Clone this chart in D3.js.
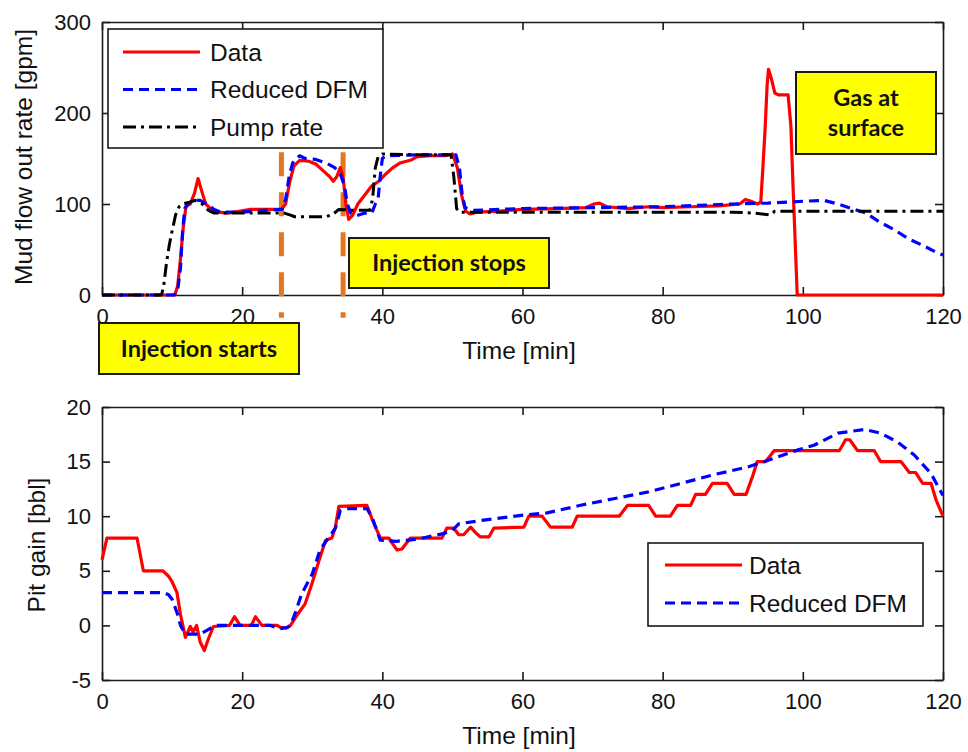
<!DOCTYPE html>
<html>
<head>
<meta charset="utf-8">
<script src="https://cdn.jsdelivr.net/npm/d3@7"></script>
<style>
  body { margin: 0; background: #fff; }
  svg { display: block; background: #fff; }
  text { font-family: "Liberation Sans", Arial, sans-serif; fill: #111; }
  .note text { font-family: Lato, "Open Sans", sans-serif; font-weight: 700; fill: #111; }
</style>
</head>
<body>
<svg id="chart" width="968" height="752"></svg>
<script>
// ---- tick values ----
const timeTicks = [0, 20, 40, 60, 80, 100, 120];
const flowTicks = [0, 100, 200, 300];
const pitTicks = [-5, 0, 5, 10, 15, 20];

// ---- mud flow out rate [gpm]: [time (min), value] ----
const flowData = [
  [0,0],[10.4,0],[10.8,10],[11.2,40],[11.6,75],[12,98],[12.6,100],[13.2,112],[13.7,128],[14.2,115],
  [14.8,100],[15.5,95],[16.5,91],[18,90],[19.5,92],[21,94],[23,94],[25.6,94],[26.2,100],[26.8,125],
  [27.4,142],[28.2,148],[29.5,147],[30.5,144],[31.5,137],[32.5,130],[33,125],[33.5,130],[34,140],
  [34.4,130],[34.8,100],[35.2,83],[35.8,88],[36.5,100],[37.5,110],[38.5,120],[39.5,125],[40.5,133],
  [41.5,140],[42.5,145],[44,148],[45,152],[47,153],[49,153],[50,155],[50.7,140],[51.3,110],[51.9,92],
  [52.5,89],[53.5,91],[56,92],[60,94],[65,95],[69,96],[70.2,100],[71,101],[72,97],[75,95],[78,97],
  [80,96],[84,97],[88,98],[91,100],[91.8,105],[92.6,103],[93.5,100],[94,102],[94.3,140],[94.6,180],
  [94.9,230],[95.1,248],[95.5,238],[96,222],[96.5,220],[97.9,220],[98.3,185],[98.6,120],[98.9,60],
  [99.2,0],[120,0]
];
const flowModel = [
  [0,0],[10.3,0],[10.8,5],[11.2,30],[11.5,70],[11.8,95],[12.3,100],[13,104],[14,104],[15,100],
  [16,94],[17,91],[20,91],[23,93],[25.7,94],[26.2,105],[26.7,130],[27.2,145],[27.7,150],[28.2,153],
  [29,150],[30.5,149],[32,145],[33.2,140],[34,133],[34.6,120],[35,100],[35.5,90],[36.3,87],[37.5,90],
  [38.5,90],[39,100],[39.4,106],[39.7,130],[40,150],[40.5,153],[45,154],[50.5,154],[51,140],[51.4,110],
  [51.8,96],[53,93],[60,95],[70,96],[80,97],[90,100],[95,101],[100,103],[103,104],[105,100],[107,95],
  [109,90],[111,80],[113,72],[115,62],[117,55],[119,47],[120,44]
];
const pumpRate = [
  [0,0],[8.5,0],[8.8,10],[9.2,35],[9.6,55],[10,70],[10.5,88],[11,97],[11.5,100],[12.5,102],[13.3,104],
  [14.3,100],[15.2,93],[16,90],[20,90],[24,90],[26,90],[26.8,88],[27.5,86],[30,86],[32,86],[33,89],
  [33.8,94],[36,93],[38.2,93],[38.6,105],[39,140],[39.4,152],[40,155],[45,154],[49.8,154],[50.2,130],
  [50.6,95],[51,91],[60,91],[70,91],[80,91],[90,91],[93,90],[95.3,88],[96,92],[100,92],[110,92],[120,92]
];

// ---- pit gain [bbl]: [time (min), value] ----
const pitData = [
  [0,6],[0.7,8],[5,8],[5.9,5],[8.7,5],[9.5,4.5],[10,4],[10.7,3],[11.2,1],[11.9,-1.1],[12.6,-0.1],
  [13,-0.6],[13.5,0],[14,-1.5],[14.6,-2.3],[15.2,-1.2],[15.9,-0.1],[18.2,0],[18.9,0.8],[19.7,0],
  [21.3,0],[21.9,0.8],[22.8,0],[25,0],[25.5,-0.2],[26.4,-0.2],[26.9,0],[27.9,1],[29,2],[30,3.9],
  [30.9,5.8],[31.9,7.8],[32.8,8],[33.3,9],[33.8,10.9],[37.8,11],[38.5,9.8],[39.7,8],[40.9,8],
  [42.1,6.9],[42.8,7],[44,8],[48.5,8],[49.2,8.9],[50.2,8.9],[50.9,8.3],[51.6,8.3],[52.6,9],[53.3,8.5],
  [54,8.1],[55.2,8.1],[55.9,8.9],[60.2,9],[60.9,10],[62.8,10],[64,9],[67.1,9],[67.8,10],[73.8,10],
  [75,11],[78,11],[79,10],[81.1,10],[82.1,11],[84,11],[84.7,12],[86.1,12],[87.1,13],[89.2,13],
  [90.2,12],[91.9,12],[92.8,13.6],[93.5,15],[94.7,15],[95.9,16],[105.2,16],[106.1,17],[106.7,17],
  [107.8,16],[110.2,16],[111.1,15],[114,15],[115.2,14],[116.1,14],[117.1,13],[118.3,13],[119,11.5],
  [120,10]
];
const pitModel = [
  [0,3],[8.8,3],[9.5,2.8],[10,2.4],[10.8,1],[11.2,0],[11.9,-0.8],[14,-0.8],[15.4,-0.3],[16.2,0],
  [24,0],[25.4,-0.3],[26.4,-0.2],[26.9,0],[27.6,1.2],[28.5,2.9],[30,4.7],[31.1,6.9],[32.3,8],
  [33.3,8.9],[34,10.5],[35,10.7],[37.8,10.7],[38.6,9.8],[39.7,7.8],[42,7.7],[45,7.9],[48.7,8.4],
  [50,8.7],[50.9,9.3],[54,9.6],[60.2,10.1],[63.5,10.3],[68.3,11],[73,11.6],[77.8,12.2],[82.6,13],
  [87.3,13.8],[92.1,14.5],[95.9,15.3],[99.2,16.05],[101.6,16.5],[105,17.6],[108.8,17.95],
  [111.1,17.6],[113.5,16.8],[115.9,15.6],[118.3,13.9],[120,11.9]
];

// injection start / stop times (min)
const injectionMarks = [25.6, 34.4];

// ---- layout ----
const svg = d3.select("#chart");
const plotLeft = 102, plotRight = 943;
const topPanel = { top: 22, bottom: 295 };
const lowPanel = { top: 407, bottom: 680 };

const x = d3.scaleLinear().domain([0, 120]).range([plotLeft, plotRight]);
const yFlow = d3.scaleLinear().domain([0, 300]).range([topPanel.bottom, topPanel.top]);
const yPit = d3.scaleLinear().domain([-5, 20]).range([lowPanel.bottom, lowPanel.top]);

const styles = {
  data:  { stroke: "#ff0000", width: 3.2, dash: null },
  model: { stroke: "#0000ff", width: 3.2, dash: "10,6" },
  pump:  { stroke: "#000000", width: 3, dash: "13,5,3,5" }
};

const labelSize = 24.5;
const plain = d => String(d);   // keep an ASCII hyphen for negative ticks

function drawFrame(yScale, ticks, panel) {
  const g = svg.append("g");
  const tickLen = -8;
  const style = sel => {
    sel.selectAll(".domain").attr("stroke", "#1a1a1a").attr("stroke-width", 1.6);
    sel.selectAll(".tick line").attr("stroke", "#1a1a1a").attr("stroke-width", 1.6);
    sel.selectAll(".tick text").attr("font-size", 22).attr("fill", "#111")
      .attr("font-family", '"Liberation Sans", Arial, sans-serif');
  };
  g.append("g").attr("transform", `translate(0,${panel.bottom})`)
    .call(d3.axisBottom(x).tickValues(timeTicks).tickFormat(plain)
      .tickSizeInner(tickLen).tickSizeOuter(0).tickPadding(13))
    .call(style);
  g.append("g").attr("transform", `translate(0,${panel.top})`)
    .call(d3.axisTop(x).tickValues(timeTicks).tickSizeInner(tickLen).tickSizeOuter(0).tickFormat(""))
    .call(style);
  g.append("g").attr("transform", `translate(${plotLeft},0)`)
    .call(d3.axisLeft(yScale).tickValues(ticks).tickFormat(plain)
      .tickSizeInner(tickLen).tickSizeOuter(0).tickPadding(11))
    .call(style);
  g.append("g").attr("transform", `translate(${plotRight},0)`)
    .call(d3.axisRight(yScale).tickValues(ticks).tickSizeInner(tickLen).tickSizeOuter(0).tickFormat(""))
    .call(style);
}

function drawSeries(points, yScale, st) {
  const line = d3.line().x(d => x(d[0])).y(d => yScale(d[1]));
  const p = svg.append("path").datum(points)
    .attr("d", line).attr("fill", "none")
    .attr("stroke", st.stroke).attr("stroke-width", st.width)
    .attr("stroke-linejoin", "round");
  if (st.dash) p.attr("stroke-dasharray", st.dash);
}

function drawLegend(box, rows) {
  const g = svg.append("g");
  g.append("rect").attr("x", box.x).attr("y", box.y).attr("width", box.w).attr("height", box.h)
    .attr("fill", "#fff").attr("stroke", "#1a1a1a").attr("stroke-width", 1.6);
  rows.forEach((r, i) => {
    const cy = box.firstRow + i * box.rowGap;
    const ln = g.append("line").attr("x1", box.lineX1).attr("x2", box.lineX2)
      .attr("y1", cy).attr("y2", cy)
      .attr("stroke", r.style.stroke).attr("stroke-width", r.style.width);
    if (r.style.dash) ln.attr("stroke-dasharray", r.style.dash);
    g.append("text").attr("x", box.textX).attr("y", cy).attr("dy", "0.36em")
      .attr("font-size", labelSize).text(r.label);
  });
}

function drawNote(box, lines) {
  const g = svg.append("g").attr("class", "note");
  g.append("rect").attr("x", box.x).attr("y", box.y).attr("width", box.w).attr("height", box.h)
    .attr("fill", "#ffff00").attr("stroke", "#1a1a1a").attr("stroke-width", 2);
  const cx = box.x + box.w / 2;
  const start = box.y + box.h / 2 - (lines.length - 1) * box.lineGap / 2;
  lines.forEach((t, i) => {
    g.append("text").attr("x", cx).attr("y", start + i * box.lineGap).attr("dy", "0.36em")
      .attr("text-anchor", "middle").attr("font-size", 23.5).text(t);
  });
}

// ---- upper panel: mud flow out rate ----
drawFrame(yFlow, flowTicks, topPanel);

// injection start/stop markers
svg.append("g").selectAll("line").data(injectionMarks).join("line")
  .attr("x1", d => x(d)).attr("x2", d => x(d))
  .attr("y1", yFlow(157)).attr("y2", yFlow(-25))
  .attr("stroke", "#e5761e").attr("stroke-width", 5).attr("stroke-dasharray", "24,16");

drawSeries(flowData, yFlow, styles.data);
drawSeries(flowModel, yFlow, styles.model);
drawSeries(pumpRate, yFlow, styles.pump);

drawLegend({ x: 108, y: 29, w: 275, h: 119, firstRow: 52, rowGap: 37.5, lineX1: 123, lineX2: 200, textX: 210 },
  [{ label: "Data", style: styles.data },
   { label: "Reduced DFM", style: styles.model },
   { label: "Pump rate", style: styles.pump }]);

svg.append("text").attr("transform", "translate(32,157) rotate(-90)")
  .attr("text-anchor", "middle").attr("font-size", labelSize).text("Mud flow out rate [gpm]");
svg.append("text").attr("x", 519).attr("y", 359)
  .attr("text-anchor", "middle").attr("font-size", labelSize).text("Time [min]");

drawNote({ x: 349, y: 238, w: 200, h: 50, lineGap: 30 }, ["Injection stops"]);
drawNote({ x: 796, y: 72, w: 140, h: 82, lineGap: 30 }, ["Gas at", "surface"]);
drawNote({ x: 99, y: 323, w: 200, h: 51, lineGap: 30 }, ["Injection starts"]);

// ---- lower panel: pit gain ----
drawFrame(yPit, pitTicks, lowPanel);
drawSeries(pitData, yPit, styles.data);
drawSeries(pitModel, yPit, styles.model);

drawLegend({ x: 648, y: 543, w: 275, h: 83, firstRow: 565, rowGap: 38, lineX1: 665, lineX2: 742, textX: 749 },
  [{ label: "Data", style: styles.data },
   { label: "Reduced DFM", style: styles.model }]);

svg.append("text").attr("transform", "translate(45,545) rotate(-90)")
  .attr("text-anchor", "middle").attr("font-size", labelSize).text("Pit gain [bbl]");
svg.append("text").attr("x", 519).attr("y", 744)
  .attr("text-anchor", "middle").attr("font-size", labelSize).text("Time [min]");
</script>
</body>
</html>
